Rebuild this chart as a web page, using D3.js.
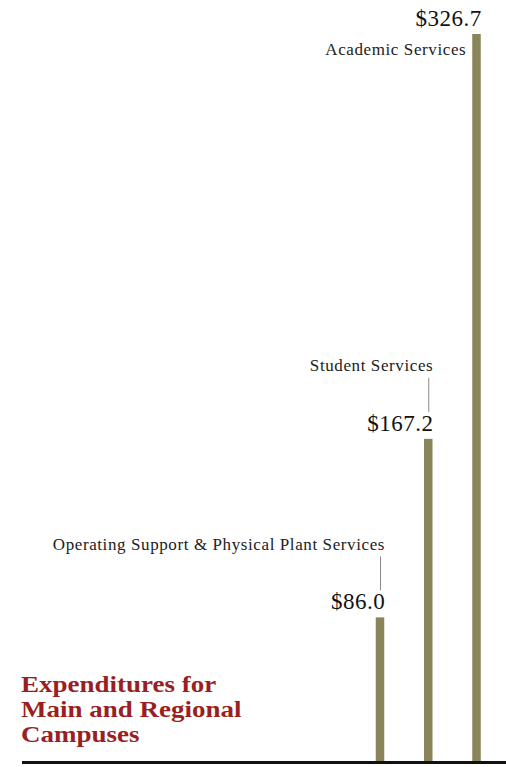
<!DOCTYPE html>
<html>
<head>
<meta charset="utf-8">
<script src="https://cdn.jsdelivr.net/npm/d3@7"></script>
<style>
  html, body { margin: 0; padding: 0; background: #fff; }
  svg { display: block; }
</style>
</head>
<body>
<svg id="chart" width="506" height="767"></svg>
<script>
// ---- data ----
const categories = ["Operating Support & Physical Plant Services", "Student Services", "Academic Services"];
const values = [86.0, 167.2, 326.7];
const valueLabels = ["$86.0", "$167.2", "$326.7"];
const titleLines = ["Expenditures for", "Main and Regional", "Campuses"];

// ---- layout ----
const W = 506, H = 767;
const baseY = 761;
const barW = 8.5;
const svg = d3.select("#chart");

const x = d3.scalePoint().domain(categories).range([380, 476.5]);
const h = d3.scalePow().exponent(1.215).domain([0, 326.7]).range([0, 727]);

const barColor = "#898459";
const serif = "'Liberation Serif', 'Times New Roman', serif";

const data = categories.map((c, i) => ({ c, v: values[i], lab: valueLabels[i], i }));
const last = data.length - 1;

// bars
svg.selectAll("rect.bar").data(data).enter().append("rect")
  .attr("class", "bar")
  .attr("x", d => x(d.c) - barW / 2)
  .attr("width", barW)
  .attr("y", d => baseY - h(d.v))
  .attr("height", d => h(d.v))
  .attr("fill", barColor);

// baseline
svg.append("line")
  .attr("x1", 22).attr("x2", W)
  .attr("y1", baseY + 1.5).attr("y2", baseY + 1.5)
  .attr("stroke", "#111").attr("stroke-width", 3);

// value labels
svg.selectAll("text.val").data(data).enter().append("text")
  .attr("class", "val")
  .attr("x", d => x(d.c) + barW / 2 + 1)
  .attr("y", d => baseY - h(d.v) - 8)
  .attr("text-anchor", "end")
  .attr("font-family", serif)
  .attr("font-size", 23)
  .attr("letter-spacing", 0.5)
  .attr("fill", "#111")
  .text(d => d.lab);

// leader lines (for non-tallest)
svg.selectAll("line.lead").data(data.filter(d => d.i !== last)).enter().append("line")
  .attr("class", "lead")
  .attr("x1", d => x(d.c) + 0.5).attr("x2", d => x(d.c) + 0.5)
  .attr("y1", d => baseY - h(d.v) - 61)
  .attr("y2", d => baseY - h(d.v) - 27)
  .attr("stroke", "#8a8a8a").attr("stroke-width", 1);

// category labels
svg.selectAll("text.cat").data(data).enter().append("text")
  .attr("class", "cat")
  .attr("x", d => d.i === last ? x(d.c) - barW / 2 - 6 : x(d.c) + 5)
  .attr("y", d => d.i === last ? baseY - h(d.v) + 21 : baseY - h(d.v) - 67.5)
  .attr("text-anchor", "end")
  .attr("font-family", serif)
  .attr("font-size", 17)
  .attr("letter-spacing", 0.6)
  .attr("fill", "#222")
  .text(d => d.c);

// title: wide bold serif, stretched horizontally to match the original face
const stretch = 1.2;
svg.selectAll("text.title").data(titleLines).enter().append("text")
  .attr("class", "title")
  .attr("x", 21)
  .attr("y", (d, i) => 692 + i * 25)
  .attr("font-family", serif)
  .attr("font-weight", "bold")
  .attr("font-size", 22.5)
  .attr("fill", "#9a1f22")
  .text(d => d)
  .each(function () {
    const w = this.getComputedTextLength();
    d3.select(this)
      .attr("textLength", w * stretch)
      .attr("lengthAdjust", "spacingAndGlyphs");
  });
</script>
</body>
</html>
